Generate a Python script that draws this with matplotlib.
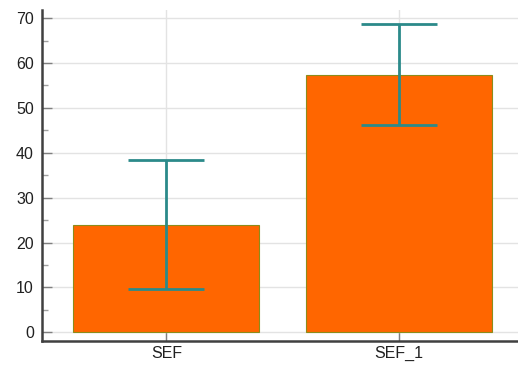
import matplotlib.pyplot as plt
import numpy as np
from matplotlib.ticker import MultipleLocator

plt.rcParams["font.family"] = ["Liberation Sans", "DejaVu Sans"]

categories = ["SEF", "SEF_1"]
means = [24.0, 57.4]
errors = [14.4, 11.3]

BAR_COLOR = "#ff6600"
EDGE_COLOR = "#8c8c1a"
ERR_COLOR = "#2b8a8a"
AXIS_COLOR = "#404040"

fig = plt.figure(figsize=(5.18, 3.72), dpi=100)
ax = fig.add_axes([0.0817, 0.0841, 0.918, 0.889])

x = np.arange(len(categories))
ax.bar(x, means, width=0.8, color=BAR_COLOR, edgecolor=EDGE_COLOR,
       linewidth=0.8, zorder=2)
ax.errorbar(x, means, yerr=errors, fmt="none", ecolor=ERR_COLOR,
            elinewidth=2, capsize=27.3, capthick=2, zorder=3)

ax.set_xlim(-0.533, 1.51)
ax.set_ylim(-1.87, 71.8)
ax.set_xticks(x)
ax.set_xticklabels(categories)
ax.yaxis.set_major_locator(MultipleLocator(10))
ax.yaxis.set_minor_locator(MultipleLocator(5))

ax.grid(True, color="#e3e3e3", linewidth=1.0, zorder=0)
ax.set_axisbelow(True)

for side in ("top", "right"):
    ax.spines[side].set_visible(False)
for side in ("left", "bottom"):
    ax.spines[side].set_color(AXIS_COLOR)
    ax.spines[side].set_linewidth(1.8)

ax.tick_params(axis="both", which="major", direction="in", length=7,
               width=1.0, color="#808080", labelsize=11.5, labelcolor="#202020")
ax.tick_params(axis="y", which="minor", direction="in", length=4,
               width=1.0, color="#a0a0a0")
ax.tick_params(axis="y", pad=6)
ax.tick_params(axis="x", pad=4)

fig.savefig("out.png", dpi=100)
